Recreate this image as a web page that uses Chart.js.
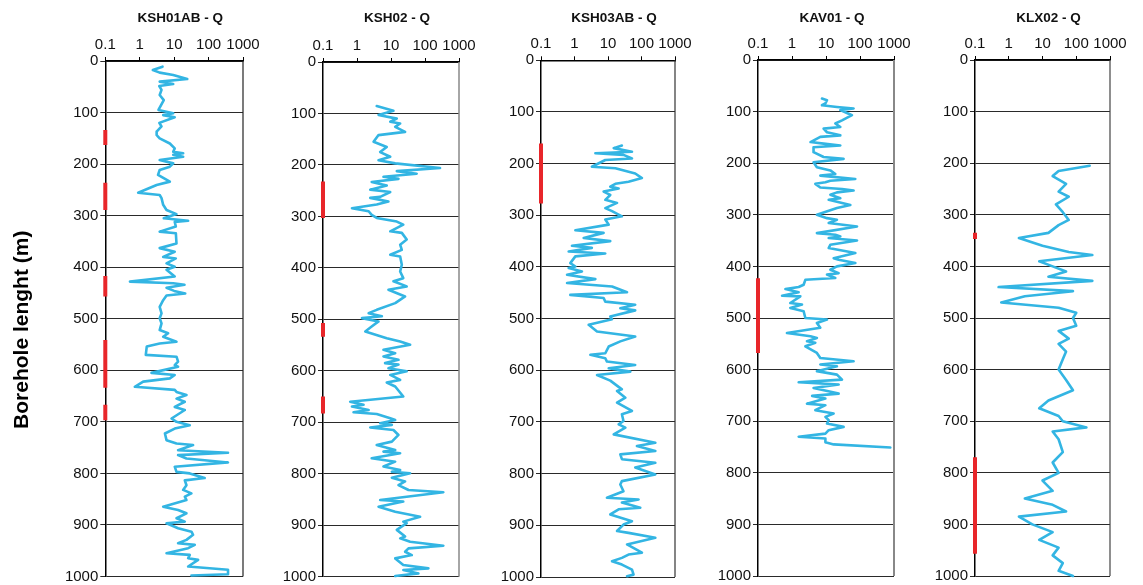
<!DOCTYPE html>
<html>
<head>
<meta charset="utf-8">
<script src="https://cdn.jsdelivr.net/npm/chart.js@4.4.1/dist/chart.umd.min.js"></script>
<style>
  html, body { margin: 0; padding: 0; background: #fff; overflow: hidden; }
  #wrap { position: relative; width: 1143px; height: 585px; }
  #wrap canvas { position: absolute; top: 0; }
</style>
</head>
<body>
<div id="wrap"></div>
<script>
// Flow-capacity axis (log) and depth axis
const qTicks = [0.1, 1, 10, 100, 1000];
const qTickLabels = ['0.1', '1', '10', '100', '1000'];
const depthMin = 0, depthMax = 1000, depthStep = 100;
const depthTitle = 'Borehole lenght (m)';

const boreholeNames = ['KSH01AB - Q', 'KSH02 - Q', 'KSH03AB - Q', 'KAV01 - Q', 'KLX02 - Q'];

// KSH01AB
const ksh01abDepth = [11,17.5,22.6,27,35,40,44.6,48.5,56,66,76,95,101.5,105,109,120,127,137,143.6,150,160,169.5,176,179,182,185.6,192,198.6,205,211.5,221,234,240.6,255.5,
  260,266,279,289,297,305,310,312,321,331,334,354,363,370,380,383,392.5,399,405,418,428,431,434,440,446,451,455,464,477,489.5,499,509,522,528,535,544.5,548,554,570,573.6,583,590,593,605,609,615.6,622,632,638,
  642,648,655,661,671,677,693.5,700,706.5,713,722.6,735.5,742,745,755,760,764.5,771,778.7,787,797,800,809,813.5,823,832,838.7,845,851.6,864.5,871,877.4,887,893.5,896.8,906.5,913,919,929,935.5,938.7,945,955,958,964.5,967.7,980.6,987,995.5,998];
const ksh01abQ = [4.6,2.4,3.8,9.4,24,3.8,9.4,3.7,4.3,3.8,5.0,3.5,9.4,4.8,10.4,3.7,4.3,3.1,3.1,3.8,7.5,10.4,9.4,18.3,9.4,18.3,3.8,9.4,7.5,3.8,3.4,7.5,3.1,0.9,
  3.8,4.3,4.8,6.0,11.7,5.0,25.5,10.4,11.2,3.8,11.2,11.7,3.8,10.4,4.8,11.2,6.0,10.4,6.0,10.4,0.52,9.4,20,6.0,10,21,6.0,4.8,3.8,4.3,3.8,4.3,3.8,6.7,4.8,11.7,3.8,1.6,1.5,11.7,13,10.4,13,2.2,10.4,7.5,1.26,0.72,10.4,
  11.7,22.8,11.7,20.4,10.4,20.4,8.4,11.7,28.4,10.4,5.4,6.0,11.7,35.5,13,367,13,22.8,367,10.4,11.7,28.4,77,20.4,22.8,18.2,31.8,20.4,22.8,4.8,13,22.8,11.7,20.4,6.0,13,31.8,35.5,22.8,13,39.8,25.5,6.0,28.4,25.5,49.7,25.5,367,367,31.8];
const ksh01abTests = [[134,163],[236,289],[417,457],[541,634],[667,697]];

// KSH02
const ksh02Depth = [85.7,94.8,103,110,116,119.5,126,135.7,142,155,165,175,184,191,197,206,212,217,223,227,233,240,248,252.6,262,
  264,271,277,284,290,297,303,310,316,329,332,345,355,365,374.5,378,394,407,420,426,436,442.6,455.5,468.5,481.5,488,494,497.7,504,514,523.6,536.5,543,549.5,559,565.7,572,578.7,585,588,595,601,608,617.6,622.7,630.5,
  650,660,666,669.5,676,680.6,684,692,695.5,702,705,710,715,724.6,737.6,744,754,757,760,770,776.5,786,792.7,796,799,807.6,815,822,831.6,836,851,854,864,873.7,883.4,893,896,909,922,925.5,932,939.8,945,951.5,958,964.4,977.4,983.9,987,993.6,998.8];
const ksh02Q = [3.8,11.8,4.3,14.8,9.5,18.6,13.3,26,4.3,3.07,7.5,4.8,9.5,4.3,13.3,277,14.8,57,6.0,16.6,2.7,7.5,2.45,9.5,4.8,
  2.45,8.4,3.8,0.71,2.2,2.7,3.8,14.8,23,9.5,20.8,29,18.6,20.8,9.5,18.6,20.8,18.6,23,11.8,29,8.4,26,13.3,3.8,2.2,5.4,1.4,4.3,2.7,1.75,7.5,18.6,36.5,6.0,13.3,6.0,16.6,6.7,16.6,8.4,29,9.5,18.6,7.5,13.3,
  23,0.63,1.56,0.71,2.2,0.79,3.8,9.5,13.3,4.8,10.6,2.45,11.8,16.6,10.6,3.8,13.3,6.0,18.6,2.7,13.3,6.0,18.6,10.6,36.5,10.6,26,16.6,32.7,347,4.8,23,4.3,13.3,71.8,23,29,14.8,26,18.6,36.5,347,32.7,26,41,13.3,23,126,23,64,13.3];
const ksh02Tests = [[232,303],[507,534],[650,683]];

// KSH03AB
const ksh03abDepth = [165,170,177,180,183,190,193,206,209,219,228,235,239,244.5,248,254,260.6,270,
  276,286,292,302,308,318,329,334,344,350,359,363,370,374,379.5,392.5,399,402,408.6,415,423.5,431,437.7,449,454,460,467,473,480,484,496,501,512,525,534.6,544,554,567,570,576.7,583,589.6,596,602.5,609,620,636.8,
  640,653,662.5,678.7,685,698,704.5,711,724,740,746.5,756,762.7,772,779,788,801.5,814.4,821,834,846.7,850,856,866,869,879,892,898.5,911,914.6,924,937,953,956.6,963,969.5,976,985.7,995.4,998.6];
const ksh03abQ = [26,14.8,52,4.2,29,52,8.3,3.3,16.6,65,103,41,16.6,11.7,20.8,7.4,11.7,8.3,
  18.6,8.3,13.2,26,8.3,10.5,1.06,7.4,1.88,11.7,0.84,3.3,0.67,8.3,1.06,0.75,1.06,0.67,1.67,0.6,4.2,0.6,13.2,37,0.75,7.4,8.3,65,23.3,65,11.7,13.2,2.65,4.7,65,23.3,10.5,8.3,2.97,8.3,9.3,65,10.5,46.5,4.7,11.7,26,
  18.6,33,18.6,52,26,29,20.8,33,14.8,259,73,259,23.3,26,259,65,259,26,23.3,29,9.3,82,26,92,20.8,11.7,52,29,18.6,41,259,37,103,41,26,13.2,26,52,58,37];
const ksh03abTests = [[161,277]];

// KAV01
const kav01Depth = [74.7,78,84,87.7,91,94,97,107,117,123,130,133,140,146,149,159,162,165.6,169,178.6,188,191.6,198,208,214,221,224,230.5,234,237,240,247,250,253,256.5,
  261,268,271,281,287,300,306.5,309.7,316,322.6,335.5,338.7,342,345,349.7,358,364.5,374,384,387,393.5,400,406.5,413,416,422.6,426,435.5,440,444,450,456.8,458,471,474,480.6,487,500,503,509.7,519,529,535.5,538.7,545,548,554.8,567.7,577.4,583.9,590,593.5,603,609.7,619.4,624.5,629,635.5,
  646.5,651,656,666,669,678.7,685,691.6,698,704.5,711,717.4,724,730,733.5,741,745,751];
const kav01Q = [7.6,10.7,9.6,7.6,21,65,26.4,58,29.6,18.8,26.4,8.5,10.7,26.4,6.8,3.5,8.5,26.4,4.3,4.3,8.5,33,4.3,5.4,13.4,18.8,6.8,73,13.4,9.6,4.85,6.8,29.6,65,21,
  13.4,26.4,12,52,21,5.4,10.7,21,12,82,5.4,18.8,26.4,12,82,13.4,12,73,16.8,23.6,73,21,13.4,23.6,10.7,18.8,2.47,2.2,1.57,0.64,1.57,0.51,1.76,0.89,1.97,0.89,2.2,2.47,10.7,5.4,6.8,0.71,3.5,5.4,2.76,4.85,2.47,5.4,6.8,65,6.8,21,5.4,21,29.6,1.57,23.6,4.3,
  23.6,3.9,9.6,2.76,9.6,4.85,16.8,9.6,12,10.7,33,12,9.6,1.57,9.6,9.6,16.8,780];
const kav01Tests = [[423,568]];

// KLX02
const klx02Depth = [205,215,225,240,255,265,280,295,310,320,335,345,360,372,378,390,400,410,420,428,440,448,458,470,480,490,500,515,525,540,550,565,580,600,620,640,660,675,690,700,712,720,735,760,780,800,815,835,850,862,875,885,900,915,930,945,960,975,990,1000];
const klx02Q = [250,30,20,50,30,60,25,40,60,30,15,2,10,60,300,8,20,50,15,300,0.5,80,3,0.6,30,100,80,100,30,60,30,50,40,30,50,80,15,8,30,40,200,20,30,40,20,30,10,20,3,20,50,2,5,20,8,30,20,40,30,80];
const klx02Tests = [[335,347],[770,957]];

const depthSeries = [ksh01abDepth, ksh02Depth, ksh03abDepth, kav01Depth, klx02Depth];
const qSeries = [ksh01abQ, ksh02Q, ksh03abQ, kav01Q, klx02Q];
const testSections = [ksh01abTests, ksh02Tests, ksh03abTests, kav01Tests, klx02Tests];

// Panel placement (plot-area edges in page pixels) and frame styling
const panels = [
  { left: 105.3, right: 243.3, top: 61,   bottom: 576.5, frame: '#222', frameW: 1.2 },
  { left: 322.7, right: 459,   top: 62,   bottom: 576.7, frame: '#888', frameW: 1.5 },
  { left: 540.7, right: 674.7, top: 60.3, bottom: 577,   frame: '#333', frameW: 1.2 },
  { left: 757.7, right: 893.7, top: 60,   bottom: 576,   frame: '#888', frameW: 2 },
  { left: 975,   right: 1110,  top: 60,   bottom: 576,   frame: '#444', frameW: 1.2 }
];

const CANVAS_H = 620;
const TITLE_FONT = 13.5, TITLE_PAD_TOP = 10, TITLE_PAD_BOTTOM = 4;
const TITLE_H = TITLE_PAD_TOP + TITLE_PAD_BOTTOM + TITLE_FONT * 1.2;
const TITLE_SHIFT = 6;
const LINE_BLUE = '#33b5e3';
const TEST_RED = '#e8262a';

Chart.defaults.font.family = "'Liberation Sans', Arial, Helvetica, sans-serif";
Chart.defaults.color = '#111';

// Right-hand edge of each plot frame
const framePlugin = {
  id: 'rightFrame',
  beforeDatasetsDraw(chart, args, opts) {
    const a = chart.chartArea, ctx = chart.ctx;
    ctx.save();
    ctx.strokeStyle = opts.color;
    ctx.lineWidth = opts.width;
    ctx.beginPath();
    ctx.moveTo(a.right, a.top);
    ctx.lineTo(a.right, a.bottom);
    ctx.stroke();
    ctx.restore();
  }
};

// Panel title sits a little right of the plot centre
const titleNudge = {
  id: 'titleNudge',
  afterLayout(chart) {
    const t = chart.titleBlock;
    if (t) { t.left += TITLE_SHIFT; t.right += TITLE_SHIFT; }
  }
};

// Shared depth-axis caption, drawn rotated beside the first panel
const sideTitle = {
  id: 'sideTitle',
  afterDraw(chart, args, opts) {
    if (!opts.text) return;
    const ctx = chart.ctx, a = chart.chartArea;
    ctx.save();
    ctx.translate(opts.x, (a.top + a.bottom) / 2 + opts.dy);
    ctx.rotate(-Math.PI / 2);
    ctx.font = 'bold 21px ' + Chart.defaults.font.family;
    ctx.fillStyle = '#000';
    ctx.textAlign = 'center';
    ctx.textBaseline = 'middle';
    ctx.fillText(opts.text, 0, 0);
    ctx.restore();
  }
};

const wrap = document.getElementById('wrap');

panels.forEach((p, i) => {
  const first = i === 0;
  const yW = first ? p.left : 60;
  const padRight = 40;
  const canvasLeft = p.left - yW;
  const width = Math.round(yW + (p.right - p.left) + padRight);

  const cv = document.createElement('canvas');
  cv.width = width; cv.height = CANVAS_H;
  cv.style.width = width + 'px'; cv.style.height = CANVAS_H + 'px';
  cv.style.left = canvasLeft + 'px';
  wrap.appendChild(cv);

  const datasets = [];
  testSections[i].forEach(([a, b]) => {
    datasets.push({
      data: [{ x: qTicks[0], y: a }, { x: qTicks[0], y: b }],
      borderColor: TEST_RED, borderWidth: 4, borderCapStyle: 'butt',
      pointRadius: 0, clip: false, tension: 0
    });
  });
  datasets.push({
    data: depthSeries[i].map((d, k) => ({ x: qSeries[i][k], y: d })),
    borderColor: LINE_BLUE, borderWidth: 2.6, borderJoinStyle: 'round', borderCapStyle: 'round',
    pointRadius: 0, tension: 0, clip: 4
  });

  new Chart(cv, {
    type: 'line',
    data: { datasets },
    plugins: [framePlugin, titleNudge, sideTitle],
    options: {
      responsive: false,
      animation: false,
      devicePixelRatio: 1,
      layout: { padding: { left: 0, right: padRight, top: 0, bottom: CANVAS_H - p.bottom } },
      plugins: {
        legend: { display: false },
        tooltip: { enabled: false },
        rightFrame: { color: p.frame, width: p.frameW },
        sideTitle: { text: first ? depthTitle : '', x: 22, dy: 11 },
        title: {
          display: true, text: boreholeNames[i], color: '#111', fullSize: false,
          font: { size: TITLE_FONT, weight: 'bold', lineHeight: 1.2 },
          padding: { top: TITLE_PAD_TOP, bottom: TITLE_PAD_BOTTOM }
        }
      },
      scales: {
        x: {
          type: 'logarithmic', position: 'top',
          min: qTicks[0], max: qTicks[qTicks.length - 1],
          afterBuildTicks: s => { s.ticks = qTicks.map(v => ({ value: v })); },
          afterFit: s => { s.height = p.top - TITLE_H; },
          ticks: {
            autoSkip: false, maxRotation: 0, padding: 3, color: '#111',
            font: { size: 15 },
            callback: (v, k) => qTickLabels[k]
          },
          grid: { display: true, drawOnChartArea: false, drawTicks: true, tickLength: 4, color: '#000', lineWidth: 1 },
          border: { display: true, color: '#000', width: 1.5 }
        },
        y: {
          type: 'linear', reverse: true, min: depthMin, max: depthMax,
          afterFit: s => { s.width = yW; },
          ticks: {
            stepSize: depthStep, padding: 2, color: '#111', font: { size: 15 },
            callback: v => String(v)
          },
          grid: { color: '#2a2a2a', lineWidth: 1, tickLength: 5, drawTicks: true },
          border: { display: true, color: '#000', width: 1.5 }
        }
      }
    }
  });
});
</script>
</body>
</html>
